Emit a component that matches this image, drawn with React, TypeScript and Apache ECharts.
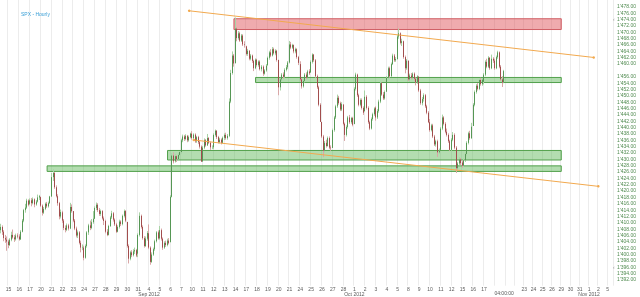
import React, { useEffect, useRef } from 'react';
import * as echarts from 'echarts';

// ---------- data ----------
const chartTitle = 'SPX - Hourly';
const timeLabel = '04:00:00';
const lastPrice = 1457.59;
const extremeMarks = [1474, 1396];

// trading days shown (the first August day is only partly visible)
const augDays = [14, 15, 16, 17, 20, 21, 22, 23, 24, 27, 28, 29, 30, 31];
const sepDays = [4, 5, 6, 7, 10, 11, 12, 13, 14, 17, 18, 19, 20, 21, 24, 25, 26, 27, 28];
const octDays = [1, 2, 3, 4, 5, 8, 9, 10, 11, 12, 15, 16, 17, 18];
const futureDays = ['10-19', '10-22', '10-23', '10-24', '10-25', '10-26', '10-29', '10-30', '10-31', '11-01', '11-02', '11-05'];
const hiddenDayLabels = ['10-18', '10-19', '10-22'];

// hourly bars: [open, close, low, high]
const aug = [
  [1407.5,1408.5,1406.5,1409.5],[1408.5,1407.0,1406.0,1409.0],[1407.0,1405.0,1404.0,1407.5],[1405.0,1404.5,1403.5,1406.0],[1404.5,1403.9,1401.0,1405.5],
  [1403.9,1402.8,1401.8,1404.5],[1402.8,1404.5,1402.5,1405.0],[1404.5,1406.0,1404.0,1407.0],[1406.0,1405.2,1404.8,1407.7],[1405.2,1404.6,1403.8,1406.0],[1404.6,1405.8,1404.2,1406.4],[1405.8,1405.5,1404.9,1406.5],
  [1405.5,1404.6,1404.2,1406.2],[1404.6,1407.0,1404.4,1407.5],[1407.0,1410.5,1406.8,1411.0],[1410.5,1413.8,1410.0,1414.2],[1413.8,1414.6,1413.0,1415.8],[1414.6,1416.8,1414.2,1417.4],[1416.8,1415.5,1415.0,1417.2],
  [1415.8,1416.9,1415.4,1417.5],[1416.9,1416.0,1415.0,1417.6],[1416.0,1417.2,1415.6,1417.8],[1417.2,1415.6,1414.7,1417.5],[1415.6,1416.5,1415.2,1417.0],[1416.5,1417.8,1416.2,1418.7],[1417.8,1418.2,1417.0,1418.6],
  [1417.9,1415.2,1414.8,1418.1],[1415.2,1413.0,1412.1,1415.6],[1413.0,1414.2,1412.6,1414.8],[1414.2,1415.8,1413.8,1416.2],[1415.8,1415.0,1414.5,1416.4],[1415.0,1416.0,1414.6,1416.5],[1416.0,1418.1,1415.8,1418.3],
  [1418.1,1424.2,1418.0,1425.5],[1424.2,1425.5,1423.0,1426.7],[1425.5,1421.0,1420.5,1425.8],[1421.0,1418.2,1417.8,1421.6],[1418.2,1416.0,1415.2,1418.8],[1416.0,1411.8,1410.9,1416.4],[1411.8,1413.2,1411.2,1414.0],
  [1413.1,1410.5,1409.8,1413.6],[1410.5,1408.2,1407.5,1411.0],[1408.2,1407.6,1406.8,1409.0],[1407.6,1409.0,1407.2,1409.6],[1409.0,1408.0,1407.4,1409.5],[1408.0,1414.8,1407.8,1416.1],[1414.8,1413.5,1413.0,1415.6],
  [1413.5,1410.5,1410.0,1413.5],[1410.5,1408.0,1407.5,1411.0],[1408.0,1405.8,1405.2,1408.6],[1405.8,1406.8,1405.0,1407.4],[1406.8,1403.5,1403.0,1407.2],[1403.5,1402.0,1400.5,1404.2],[1402.0,1402.1,1401.2,1403.0],
  [1402.0,1398.8,1398.0,1402.6],[1398.8,1402.5,1398.5,1403.0],[1402.5,1406.8,1402.0,1407.2],[1406.8,1409.0,1406.0,1409.5],[1409.0,1408.2,1407.5,1410.5],[1408.2,1410.0,1407.8,1411.0],[1410.0,1411.1,1409.5,1413.5],
  [1411.1,1414.5,1411.0,1415.0],[1414.5,1415.5,1413.8,1416.2],[1415.5,1413.8,1413.2,1416.0],[1413.8,1412.6,1412.0,1414.5],[1412.6,1413.5,1412.0,1414.0],[1413.5,1411.2,1410.8,1413.8],[1411.2,1410.4,1409.1,1411.8],
  [1410.4,1407.0,1406.5,1410.8],[1407.0,1406.0,1405.6,1407.8],[1406.0,1408.8,1405.8,1409.2],[1408.8,1411.5,1408.5,1412.0],[1411.5,1412.8,1411.0,1413.6],[1412.8,1410.8,1410.2,1413.2],[1410.8,1409.3,1408.8,1411.2],
  [1409.3,1407.0,1406.6,1409.8],[1407.0,1408.5,1406.8,1409.0],[1408.5,1410.2,1408.0,1410.8],[1410.2,1409.4,1408.8,1410.6],[1409.4,1412.0,1409.0,1412.4],[1412.0,1413.5,1411.5,1414.0],[1413.5,1410.5,1410.0,1413.8],
  [1410.1,1402.5,1402.0,1410.1],[1402.5,1398.5,1397.0,1403.0],[1398.5,1400.5,1398.0,1401.0],[1400.5,1399.6,1399.0,1401.2],[1399.6,1400.8,1399.2,1401.5],[1400.8,1401.2,1400.0,1402.0],[1401.2,1399.5,1399.0,1401.6],
  [1400.1,1406.0,1399.0,1406.5],[1406.0,1412.0,1405.5,1413.1],[1412.0,1408.5,1408.0,1412.4],[1408.5,1405.0,1404.5,1409.0],[1405.0,1402.5,1402.0,1405.6],[1402.5,1404.8,1402.2,1405.5],[1404.8,1406.6,1404.2,1407.2],
];
const sep = [
  [1406.5,1402.0,1401.5,1409.3],[1402.0,1397.5,1396.6,1402.4],[1397.5,1399.8,1397.2,1400.5],[1399.8,1401.5,1399.4,1402.0],[1401.5,1404.0,1401.0,1404.5],[1404.0,1406.8,1403.6,1407.2],[1406.8,1404.9,1404.5,1407.4],
  [1404.9,1407.5,1404.5,1408.8],[1407.5,1404.8,1404.2,1408.0],[1404.8,1402.0,1401.3,1405.2],[1402.0,1403.5,1401.6,1404.0],[1403.5,1402.8,1402.2,1404.2],[1402.8,1404.2,1402.4,1404.8],[1404.2,1403.4,1403.0,1405.0],
  [1403.7,1418.0,1403.7,1418.5],[1418.0,1431.0,1417.8,1431.8],[1431.0,1429.2,1428.5,1432.0],[1429.2,1430.8,1428.8,1431.5],[1430.8,1429.8,1429.0,1431.2],[1429.8,1431.2,1429.4,1431.8],[1431.2,1432.1,1430.8,1432.4],
  [1432.1,1435.8,1431.6,1436.3],[1435.8,1437.0,1435.2,1437.6],[1437.0,1436.2,1435.6,1437.5],[1436.2,1437.2,1435.8,1437.7],[1437.2,1435.8,1435.2,1437.5],[1435.8,1436.8,1435.4,1437.3],[1436.8,1437.9,1436.4,1438.2],
  [1437.9,1436.5,1436.0,1438.7],[1436.5,1437.6,1436.0,1438.0],[1437.6,1435.5,1435.0,1438.0],[1435.5,1436.8,1435.0,1437.2],[1436.8,1435.2,1434.6,1437.2],[1435.2,1433.8,1433.2,1435.8],[1433.8,1429.1,1429.0,1434.2],
  [1429.1,1433.5,1429.1,1434.0],[1433.5,1435.8,1433.0,1436.4],[1435.8,1434.2,1433.8,1436.2],[1434.2,1436.5,1434.0,1437.8],[1436.5,1435.0,1434.6,1436.8],[1435.0,1433.6,1432.8,1435.4],[1433.6,1433.6,1433.0,1434.2],
  [1433.6,1437.5,1433.0,1438.0],[1437.5,1438.8,1437.0,1439.2],[1438.8,1436.8,1436.2,1439.0],[1436.8,1435.2,1434.8,1437.2],[1435.2,1436.0,1434.8,1436.6],[1436.0,1435.0,1434.5,1436.4],[1435.0,1436.6,1434.8,1437.0],
  [1436.6,1437.5,1435.9,1438.0],[1437.5,1436.5,1436.0,1438.2],[1436.5,1437.2,1436.0,1437.8],[1437.2,1448.0,1436.8,1449.0],[1448.0,1457.0,1447.5,1458.0],[1457.0,1462.5,1456.5,1463.8],[1462.5,1460.0,1459.0,1463.0],
  [1460.1,1471.0,1460.0,1474.5],[1471.0,1468.0,1467.0,1471.5],[1468.0,1469.5,1467.5,1470.2],[1469.5,1467.2,1466.8,1470.0],[1467.2,1468.8,1466.8,1469.3],[1468.8,1466.0,1465.5,1469.2],[1466.0,1465.8,1465.0,1467.0],
  [1465.4,1463.0,1462.5,1465.6],[1463.0,1464.0,1462.4,1464.6],[1464.0,1461.5,1461.0,1464.2],[1461.5,1462.5,1461.0,1463.0],[1462.5,1460.8,1460.2,1462.8],[1460.8,1458.5,1457.6,1461.2],[1458.5,1461.2,1458.2,1461.6],
  [1461.2,1459.5,1459.0,1461.5],[1459.5,1460.6,1459.0,1461.0],[1460.6,1458.2,1457.8,1461.0],[1458.2,1459.0,1457.5,1459.5],[1459.0,1456.8,1456.1,1459.4],[1456.8,1457.8,1456.5,1458.2],[1457.8,1459.3,1457.4,1459.8],
  [1459.5,1461.8,1459.2,1462.2],[1461.8,1463.5,1461.2,1464.0],[1463.5,1462.5,1462.0,1464.5],[1462.5,1464.5,1462.2,1465.2],[1464.5,1463.2,1462.8,1465.0],[1463.2,1464.0,1462.6,1464.5],[1464.0,1461.1,1460.6,1464.3],
  [1461.1,1452.5,1450.0,1461.2],[1452.5,1455.0,1451.5,1455.5],[1455.0,1456.5,1454.5,1457.0],[1456.5,1455.8,1455.2,1457.2],[1455.8,1458.0,1455.5,1458.5],[1458.0,1458.8,1457.5,1459.5],[1458.8,1460.3,1458.2,1460.8],
  [1460.3,1466.0,1460.0,1467.1],[1466.0,1465.0,1464.5,1466.8],[1465.0,1465.8,1464.6,1466.2],[1465.8,1463.8,1463.2,1466.0],[1463.8,1464.5,1463.2,1465.0],[1464.5,1462.0,1461.5,1464.8],[1462.0,1460.2,1459.5,1462.4],
  [1459.8,1455.0,1454.5,1460.7],[1455.0,1452.8,1452.1,1455.4],[1452.8,1454.5,1452.4,1455.0],[1454.5,1456.5,1454.0,1457.0],[1456.5,1455.5,1455.0,1457.2],[1455.5,1457.5,1455.0,1458.0],[1457.5,1456.9,1456.4,1458.2],
  [1457.2,1460.5,1457.0,1461.0],[1460.5,1462.8,1460.0,1463.2],[1462.8,1461.0,1460.5,1463.0],[1461.0,1456.0,1455.5,1461.4],[1456.0,1452.5,1452.0,1456.5],[1452.5,1447.0,1446.5,1453.0],[1447.0,1441.6,1441.6,1447.5],
  [1441.6,1437.0,1436.5,1441.6],[1437.0,1432.5,1430.5,1437.5],[1432.5,1435.0,1432.0,1435.6],[1435.0,1434.0,1433.5,1436.0],[1434.0,1436.5,1433.8,1437.0],[1436.5,1433.5,1433.0,1437.0],[1433.5,1433.3,1432.5,1434.2],
  [1433.4,1439.0,1433.4,1439.5],[1439.0,1443.0,1438.5,1443.5],[1443.0,1446.5,1442.5,1447.0],[1446.5,1449.2,1446.0,1450.2],[1449.2,1447.5,1447.0,1449.8],[1447.5,1445.5,1445.0,1448.0],[1445.5,1447.2,1445.0,1447.8],
  [1447.1,1441.0,1440.5,1447.1],[1441.0,1437.5,1435.6,1441.4],[1437.5,1440.0,1437.0,1440.5],[1440.0,1443.0,1439.5,1443.5],[1443.0,1441.5,1441.0,1443.8],[1441.5,1442.8,1441.0,1443.2],[1442.8,1440.7,1440.2,1443.2],
];
const oct = [
  [1440.9,1452.0,1440.9,1452.5],[1452.0,1456.5,1451.5,1457.1],[1456.5,1450.0,1449.5,1456.8],[1450.0,1447.0,1446.5,1450.5],[1447.0,1448.5,1446.5,1449.0],[1448.5,1446.0,1445.5,1449.0],[1446.0,1444.5,1443.8,1446.5],
  [1445.0,1449.5,1444.8,1451.5],[1449.5,1446.0,1445.5,1450.0],[1446.0,1441.5,1441.0,1446.5],[1441.5,1439.5,1439.0,1442.0],[1439.5,1442.5,1439.2,1443.0],[1442.5,1444.0,1442.0,1444.5],[1444.0,1445.8,1443.5,1446.2],
  [1446.1,1443.0,1442.0,1446.5],[1443.0,1445.0,1442.5,1445.6],[1445.0,1448.0,1444.5,1448.6],[1448.0,1453.8,1447.5,1454.3],[1453.8,1450.2,1449.8,1454.0],[1450.2,1449.0,1448.5,1451.0],[1449.0,1451.0,1448.6,1451.5],
  [1451.1,1455.5,1451.1,1456.0],[1455.5,1458.5,1455.0,1459.0],[1458.5,1456.0,1455.5,1459.0],[1456.0,1459.8,1455.8,1460.3],[1459.8,1462.5,1459.5,1463.1],[1462.5,1461.0,1460.5,1463.0],[1461.0,1461.4,1460.5,1462.0],
  [1461.4,1468.5,1461.2,1469.0],[1468.5,1469.5,1467.8,1471.0],[1469.5,1466.5,1466.0,1469.8],[1466.5,1467.0,1465.5,1467.8],[1467.0,1462.0,1461.5,1467.2],[1462.0,1458.5,1456.9,1462.5],[1458.5,1460.9,1458.0,1461.4],
  [1460.9,1455.0,1454.5,1460.9],[1455.0,1456.2,1454.2,1456.8],[1456.2,1455.5,1455.0,1457.0],[1455.5,1456.8,1455.0,1457.2],[1456.8,1455.2,1454.6,1457.2],[1455.2,1454.0,1453.1,1455.6],[1454.0,1455.9,1453.6,1456.3],
  [1455.9,1451.5,1451.0,1455.9],[1451.5,1447.5,1447.0,1452.0],[1447.5,1448.8,1446.8,1449.4],[1448.8,1450.0,1448.0,1450.6],[1450.0,1446.5,1446.0,1450.4],[1446.5,1444.5,1444.0,1447.0],[1444.5,1441.5,1441.2,1445.0],
  [1441.5,1439.0,1438.5,1442.5],[1439.0,1440.5,1438.6,1441.0],[1440.5,1437.0,1436.5,1441.0],[1437.0,1434.5,1434.0,1437.5],[1434.5,1435.5,1433.8,1436.0],[1435.5,1432.0,1430.6,1436.0],[1432.0,1432.6,1431.5,1433.2],
  [1432.8,1439.5,1432.8,1440.0],[1439.5,1443.0,1439.0,1443.9],[1443.0,1441.0,1440.5,1443.4],[1441.0,1438.5,1438.0,1441.5],[1438.5,1437.5,1437.0,1439.5],[1437.5,1435.5,1435.0,1438.0],[1435.5,1432.8,1432.5,1436.0],
  [1432.8,1436.0,1432.5,1436.5],[1436.0,1437.5,1435.5,1438.4],[1437.5,1433.5,1433.0,1438.0],[1433.5,1427.0,1425.5,1434.0],[1427.0,1428.5,1426.5,1429.0],[1428.5,1429.8,1428.0,1430.5],[1429.8,1428.6,1428.0,1430.2],
  [1428.8,1427.8,1427.2,1429.5],[1427.8,1429.5,1427.4,1430.0],[1429.5,1431.5,1429.0,1432.0],[1431.5,1435.0,1431.0,1435.5],[1435.0,1438.0,1434.5,1438.5],[1438.0,1436.5,1436.0,1438.8],[1436.5,1440.1,1436.2,1441.3],
  [1440.3,1447.0,1440.3,1447.5],[1447.0,1451.0,1446.5,1451.5],[1451.0,1453.0,1450.5,1453.5],[1453.0,1452.0,1451.5,1453.8],[1452.0,1454.8,1451.6,1455.2],[1454.8,1453.5,1453.0,1455.5],[1453.5,1454.9,1453.0,1455.3],
  [1454.2,1456.5,1453.4,1457.0],[1456.5,1460.5,1456.0,1461.0],[1460.5,1459.0,1458.5,1461.5],[1459.0,1461.8,1458.6,1462.3],[1461.8,1458.5,1458.0,1462.0],[1458.5,1461.5,1458.2,1462.8],[1461.5,1460.9,1460.2,1462.0],
  [1460.9,1458.5,1458.0,1461.5],[1458.5,1462.0,1458.2,1462.5],[1462.0,1463.5,1461.5,1464.0],[1463.5,1459.0,1458.5,1463.8],[1459.0,1455.0,1454.5,1459.5],[1455.0,1454.0,1452.6,1456.0],[1454.0,1457.59,1453.8,1458.0],
];

// drawn zones: [from bar, to bar, low price, high price]
const resistanceZones = [['09-13 6', '10-29 0', 1470.7, 1474.1]];
const supportZones = [
  ['09-17 6', '10-29 0', 1454.0, 1455.6],
  ['09-05 5', '10-29 0', 1429.6, 1432.6],
  ['08-20 4', '10-29 0', 1426.0, 1427.75],
];
// channel lines: [from bar, price, to bar, price]
const channelLines = [
  ['09-07 5', 1476.6, '11-01 3', 1461.9],
  ['09-10 1', 1435.9, '11-02 0', 1421.3],
];

// ---------- layout / styling constants ----------
const BARS_PER_DAY = 7;
const FUTURE_SLOTS_PER_DAY = 6;
const TOTAL_SLOTS = 397;
const FONT = 'Liberation Sans, Arial, sans-serif';
const monthNames: Record<string, string> = { '09': 'Sep', '10': 'Oct', '11': 'Nov' };

const pad = (n: number) => (n < 10 ? '0' + n : '' + n);
const fmtPrice = (v: number) => {
  const s = v.toFixed(2);
  return s.slice(0, 1) + "'" + s.slice(1);
};

function buildAxis() {
  const categories: string[] = [];
  const dayLabels = new Map<string, string>();
  const dayStarts = new Set<string>();
  const bars: number[][] = [];
  const addMonth = (mm: string, days: number[], monthBars: number[][], monthLabel: boolean) => {
    const firstCount = monthBars.length - (days.length - 1) * BARS_PER_DAY;
    let b = 0;
    days.forEach((d, i) => {
      const n = i === 0 ? firstCount : BARS_PER_DAY;
      for (let k = 0; k < n; k++) {
        const c = `${mm}-${pad(d)} ${k}`;
        categories.push(c);
        bars.push(monthBars[b++]);
        if (k === 0 && n === BARS_PER_DAY) {
          dayStarts.add(c);
          const key = `${mm}-${pad(d)}`;
          if (!hiddenDayLabels.includes(key)) {
            dayLabels.set(c, i === 0 && monthLabel ? `${d}\n${monthNames[mm]} 2012` : `${d}`);
          }
        }
      }
    });
  };
  addMonth('08', augDays, aug, false);
  addMonth('09', sepDays, sep, true);
  addMonth('10', octDays, oct, true);
  let prevMonth = '10';
  for (const fd of futureDays) {
    const [mm, dd] = fd.split('-');
    for (let k = 0; k < FUTURE_SLOTS_PER_DAY && categories.length < TOTAL_SLOTS; k++) {
      const c = `${fd} ${k}`;
      categories.push(c);
      if (k === 0) {
        dayStarts.add(c);
        if (!hiddenDayLabels.includes(fd)) {
          const d = parseInt(dd, 10);
          dayLabels.set(c, mm !== prevMonth ? `${d}\n${monthNames[mm]} 2012` : `${d}`);
        }
      }
    }
    prevMonth = mm;
  }
  return { categories, dayLabels, dayStarts, bars };
}

export default function App() {
  const ref = useRef<HTMLDivElement>(null);
  useEffect(() => {
    if (!ref.current) return;
    const chart = echarts.init(ref.current, undefined, { renderer: 'svg' });
    const { categories, dayLabels, dayStarts, bars } = buildAxis();
    const bodies = bars.map(([o, c]) => [o, c, Math.min(o, c), Math.max(o, c)]);

    const zoneData = [
      ...resistanceZones.map((z) => [
        { xAxis: z[0], yAxis: z[3], itemStyle: { color: 'rgba(222,80,86,0.48)', borderColor: '#d06066', borderWidth: 1 } },
        { xAxis: z[1], yAxis: z[2] },
      ]),
      ...supportZones.map((z) => [
        { xAxis: z[0], yAxis: z[3], itemStyle: { color: 'rgba(96,184,90,0.48)', borderColor: '#52a04c', borderWidth: 1 } },
        { xAxis: z[1], yAxis: z[2] },
      ]),
    ];

    chart.setOption({
      animation: false,
      textStyle: { fontFamily: FONT },
      title: {
        text: chartTitle,
        left: 21,
        top: 11.5,
        padding: 0,
        textStyle: { fontSize: 5, color: '#3a9fd6', fontWeight: 'normal', fontFamily: FONT },
      },
      grid: { left: 0, right: 27, top: -2, bottom: 7.5 },
      xAxis: {
        type: 'category',
        data: categories,
        boundaryGap: true,
        axisLine: { show: false },
        axisTick: { show: false },
        axisLabel: {
          interval: (_i: number, v: string) => dayLabels.has(v),
          formatter: (v: string) => dayLabels.get(v) || '',
          fontSize: 5,
          lineHeight: 5.4,
          color: '#5a5a5a',
          margin: 0.5,
          fontFamily: FONT,
        },
        splitLine: {
          show: true,
          interval: (_i: number, v: string) => dayStarts.has(v),
          lineStyle: { color: '#ececec', width: 1 },
        },
      },
      yAxis: {
        type: 'value',
        position: 'right',
        min: 1390,
        max: 1480,
        interval: 2,
        axisLine: { show: false },
        axisTick: { show: false },
        splitLine: { show: false },
        axisLabel: {
          fontSize: 5,
          color: '#4f8a4f',
          margin: 4,
          fontFamily: FONT,
          formatter: (v: number) => (v === 1390 || v === 1480 || v === 1458 ? '' : fmtPrice(v)),
        },
      },
      series: [
        {
          type: 'candlestick',
          name: 'range',
          data: bars,
          barWidth: 1,
          itemStyle: { color: '#a9d3a6', color0: '#d9a7a7', borderColor: '#a9d3a6', borderColor0: '#d9a7a7', borderWidth: 1 },
          markArea: { silent: true, data: zoneData },
          markLine: {
            silent: true,
            symbol: ['circle', 'circle'],
            symbolSize: 2.5,
            lineStyle: { color: '#f2a94e', width: 1, type: 'solid' },
            label: { show: false },
            data: channelLines.map((l) => [{ coord: [l[0], l[1]] }, { coord: [l[2], l[3]] }]),
          },
        },
        {
          type: 'candlestick',
          name: 'body',
          data: bodies,
          barWidth: 0.8,
          itemStyle: { color: '#1f6e1f', color0: '#7c1010', borderColor: '#1f6e1f', borderColor0: '#7c1010', borderWidth: 0.6 },
          markLine: {
            silent: true,
            symbol: 'none',
            lineStyle: { opacity: 0 },
            data: [{ yAxis: lastPrice }],
            label: {
              show: true,
              position: 'end',
              distance: 3,
              formatter: () => fmtPrice(lastPrice),
              fontSize: 5,
              color: '#333',
              backgroundColor: '#fff',
              borderColor: '#777',
              borderWidth: 0.7,
              padding: [1, 0.5, 0.5, 0.5],
              fontFamily: FONT,
            },
          },
        },
      ],
    });

    const rightX = chart.convertToPixel({ xAxisIndex: 0 }, categories[categories.length - 1]) as number;
    const lastX = chart.convertToPixel({ xAxisIndex: 0 }, categories[bars.length - 1]) as number;
    chart.setOption({
      graphic: [
        {
          type: 'text',
          x: lastX,
          y: 292.5,
          style: { text: timeLabel, fontSize: 5, fill: '#555', align: 'center', verticalAlign: 'middle', fontFamily: FONT },
        },
        ...extremeMarks.map((v) => ({
          type: 'text',
          x: rightX + 1.5,
          y: chart.convertToPixel({ yAxisIndex: 0 }, v) as number,
          style: { text: '‹', fontSize: 5, fill: '#999', align: 'center', verticalAlign: 'middle', fontFamily: FONT },
        })),
      ],
    });
    return () => chart.dispose();
  }, []);
  return <div ref={ref} style={{ position: 'fixed', left: 0, top: 0, width: 640, height: 297 }} />;
}
